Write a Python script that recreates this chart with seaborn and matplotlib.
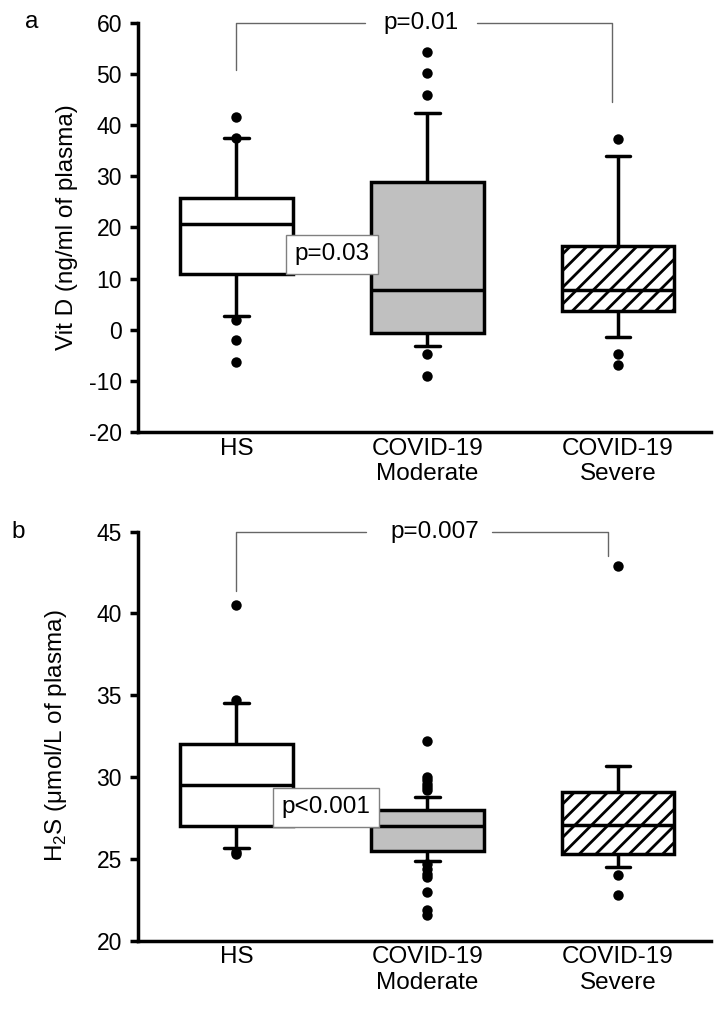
import pandas as pd
import matplotlib
matplotlib.use('Agg')
import matplotlib.pyplot as plt
import seaborn as sns

groups = ['HS', 'COVID-19\nModerate', 'COVID-19\nSevere']
box_colors = ['white', '#c0c0c0', 'white']

# box summary: lower whisker, Q1, median, Q3, upper whisker
vitd_hs = [2.6, 10.8, 20.6, 25.8, 37.4]
vitd_moderate = [-3.2, -0.7, 7.7, 28.9, 42.4]
vitd_severe = [-1.5, 3.6, 7.8, 16.4, 33.9]
vitd_out_hs = [41.6, 37.4, 2.0, -2.0, -6.3]
vitd_out_moderate = [54.3, 50.1, 45.9, -4.8, -9.0]
vitd_out_severe = [37.2, -4.8, -6.9]

h2s_hs = [25.65, 27.0, 29.5, 32.0, 34.5]
h2s_moderate = [24.85, 25.5, 27.0, 28.0, 28.8]
h2s_severe = [24.5, 25.3, 27.1, 29.1, 30.65]
h2s_out_hs = [40.5, 34.7, 25.45, 25.3]
h2s_out_moderate = [32.2, 30.0, 29.8, 29.6, 29.4, 29.2,
                    24.7, 24.4, 24.1, 23.9, 23.0, 21.9, 21.6]
h2s_out_severe = [42.9, 24.0, 22.8]


# Transforme des listes par groupe en table longue
def long_table(values_per_group):
    rows = []
    for g, vals in zip(groups, values_per_group):
        for v in vals:
            rows.append({'group': g, 'value': v})
    return pd.DataFrame(rows)


def draw_panel(ax, boxes, outliers, ylim, yticks, ylabel, label_x):
    box_df = long_table(boxes)
    # whis=(0,100) -> whiskers go to the first/last value given
    sns.boxplot(data=box_df, x='group', y='value', hue='group', order=groups,
                hue_order=groups, palette=dict(zip(groups, box_colors)),
                saturation=1, whis=(0, 100), width=0.59, linewidth=2.5,
                linecolor='black', fliersize=0, legend=False, capwidths=0.13,
                ax=ax)
    for patch in ax.patches:
        ext = patch.get_path().get_extents()
        if round((ext.x0 + ext.x1) / 2) == 2:
            patch.set_hatch('//')

    out_df = long_table(outliers)
    sns.stripplot(data=out_df, x='group', y='value', order=groups, jitter=False,
                  color='black', size=7.5, linewidth=0, zorder=3, ax=ax)

    ax.set_xlim(-0.516, 2.487)
    ax.set_ylim(*ylim)
    ax.set_yticks(yticks)
    ax.set_xlabel('')
    ax.set_ylabel(ylabel, fontsize=17.5)
    ax.yaxis.set_label_coords(label_x, 0.5)
    sns.despine(ax=ax)
    for side in ['left', 'bottom']:
        ax.spines[side].set_linewidth(2.5)
    ax.tick_params(axis='x', length=0, pad=4, labelsize=17.5)
    ax.tick_params(axis='y', length=5.5, width=2.5, pad=6, labelsize=16.5)


sns.set_style('ticks')
plt.rcParams['font.family'] = ['Liberation Sans', 'DejaVu Sans']
plt.rcParams['hatch.linewidth'] = 2.0
plt.rcParams['axes.unicode_minus'] = False
for key in ['text.color', 'axes.labelcolor', 'xtick.color', 'ytick.color', 'axes.edgecolor']:
    plt.rcParams[key] = 'black'

fig = plt.figure(figsize=(7.17, 10.09), dpi=100)
ax_a = fig.add_axes([0.1925, 0.5718, 0.799, 0.4056])
ax_b = fig.add_axes([0.1925, 0.0677, 0.799, 0.4054])

draw_panel(ax_a, [vitd_hs, vitd_moderate, vitd_severe],
           [vitd_out_hs, vitd_out_moderate, vitd_out_severe],
           (-20, 60), range(-20, 61, 10), 'Vit D (ng/ml of plasma)', -0.105)
draw_panel(ax_b, [h2s_hs, h2s_moderate, h2s_severe],
           [h2s_out_hs, h2s_out_moderate, h2s_out_severe],
           (20, 45), range(20, 46, 5), r'H$_\mathregular{2}$S (μmol/L of plasma)', -0.12)

line_kw = dict(color='#666666', lw=1.0, clip_on=False)
box_kw = dict(boxstyle='square,pad=0.35', fc='white', ec='#808080', lw=1)

# panel a annotations
ax_a.plot([0, 0, 0.674], [50.8, 60, 60], **line_kw)
ax_a.plot([1.26, 1.97, 1.97], [60, 60, 44.5], **line_kw)
ax_a.text(0.97, 60, 'p=0.01', ha='center', va='center', fontsize=17.5)
ax_a.text(0.50, 14.8, 'p=0.03', ha='center', va='center', fontsize=17.5,
          bbox=box_kw, zorder=6)

# panel b annotations
ax_b.plot([0, 0, 0.68], [41.4, 45, 45], **line_kw)
ax_b.plot([1.34, 1.95, 1.95], [45, 45, 43.5], **line_kw)
ax_b.text(1.04, 45, 'p=0.007', ha='center', va='center', fontsize=17.5)
ax_b.text(0.47, 28.15, 'p<0.001', ha='center', va='center', fontsize=17.5,
          bbox=box_kw, zorder=6)

fig.text(32 / 717, 1 - 22 / 1009, 'a', ha='center', va='center', fontsize=17.5)
fig.text(18 / 717, 1 - 532 / 1009, 'b', ha='center', va='center', fontsize=17.5)

fig.savefig('out.png', dpi=100)
